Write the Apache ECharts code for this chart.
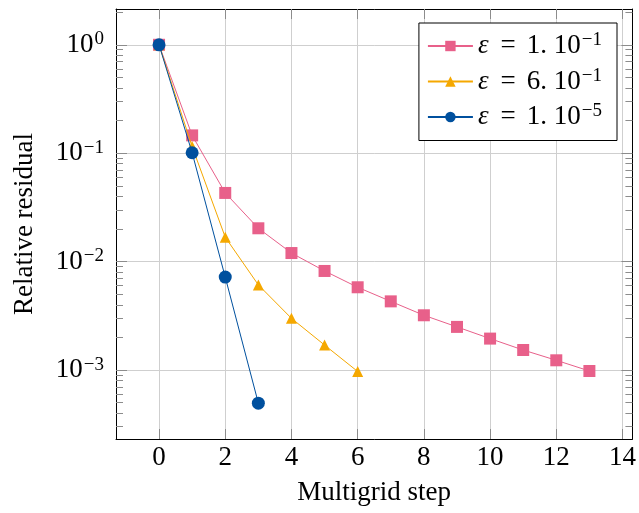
<!DOCTYPE html>
<html>
<head>
<meta charset="utf-8">
<script src="https://cdn.jsdelivr.net/npm/echarts@6/dist/echarts.min.js"></script>
<style>
  html, body { margin: 0; padding: 0; background: #fff; }
  #chart { width: 639px; height: 513px; }
</style>
</head>
<body>
<div id="chart"></div>
<script>
const steps = [0, 1, 2, 3, 4, 5, 6, 7, 8, 9, 10, 11, 12, 13];
const eps1e1 = [1, 0.146, 0.043, 0.0203, 0.0120, 0.0082, 0.0058, 0.0043, 0.0032, 0.0025, 0.00195, 0.00153, 0.00123, 0.00098];
const eps6e1 = [1, 0.115, 0.0168, 0.0061, 0.0030, 0.0017, 0.00097];
const eps1e5 = [1, 0.101, 0.0072, 0.000495];
const xTicks = [0, 2, 4, 6, 8, 10, 12, 14];
const yTicks = [0.001, 0.01, 0.1, 1];
const seriesNames = ['eps1', 'eps6', 'eps5'];
const legendParts = {
  eps1: ['1', '−1'],
  eps6: ['6', '−1'],
  eps5: ['1', '−5']
};

// minor ticks of the log axis: 2..9 times each decade
const yMinor = [];
[0.0001, 0.001, 0.01, 0.1, 1].forEach(d => {
  for (let k = 2; k <= 9; k++) yMinor.push(+(d * k).toPrecision(3));
});

const font = '"Liberation Serif", "DejaVu Serif", serif';
const xMin = -1.3, xMax = 14.3;
const yMin = Math.pow(10, -3.636), yMax = Math.pow(10, 0.33);
const tickColor = '#8c8c8c';

const supRich = {
  b: { fontFamily: font, fontSize: 27, color: '#000', lineHeight: 30 },
  s: { fontFamily: font, fontSize: 19, color: '#000', verticalAlign: 'top', lineHeight: 30, padding: [0, 0, 4, 1] }
};

function powLabel(v) {
  const e = Math.round(Math.log10(v));
  return '{b|10}{s|' + String(e).replace('-', '−') + '}';
}

function pair(xs, ys) {
  return ys.map((y, i) => [xs[i], y]);
}

function tickAxis(type, position, ticks, len, extra) {
  const isX = position === 'top' || position === 'bottom';
  return Object.assign({
    type: type, position: position,
    min: isX ? xMin : yMin, max: isX ? xMax : yMax,
    axisLine: { show: false, onZero: false },
    axisTick: { show: true, inside: true, length: len, customValues: ticks, lineStyle: { color: tickColor } },
    axisLabel: { show: false },
    splitLine: { show: false }
  }, extra || {});
}

const chart = echarts.init(document.getElementById('chart'));

const option = {
  animation: false,
  backgroundColor: '#fff',
  grid: { left: 116, right: 6, top: 9, bottom: 74 },
  legend: {
    data: seriesNames,
    orient: 'vertical',
    right: 22, top: 23,
    backgroundColor: '#fff',
    borderColor: '#000', borderWidth: 1, borderRadius: 0,
    padding: [8, 15, 10, 8],
    itemWidth: 45, itemHeight: 13, itemGap: 7,
    formatter: n => '{i|ε}{e|=}{t|' + legendParts[n][0] + '. 10}{s|' + legendParts[n][1] + '}',
    textStyle: {
      fontFamily: font, fontSize: 27, color: '#000',
      rich: {
        i: { fontFamily: font, fontSize: 27, fontStyle: 'italic', color: '#000', lineHeight: 30 },
        e: { fontFamily: font, fontSize: 27, color: '#000', lineHeight: 30, padding: [0, 11, 0, 12] },
        t: { fontFamily: font, fontSize: 27, color: '#000', lineHeight: 30 },
        s: { fontFamily: font, fontSize: 19, color: '#000', verticalAlign: 'top', lineHeight: 30, padding: [0, 0, 4, 1] }
      }
    }
  },
  xAxis: [{
    type: 'value', min: xMin, max: xMax, position: 'bottom',
    name: 'Multigrid step', nameLocation: 'middle', nameGap: 40,
    nameTextStyle: { fontFamily: font, fontSize: 27, color: '#000' },
    axisLine: { show: true, onZero: false, lineStyle: { color: '#000', width: 1 } },
    axisTick: { show: true, inside: true, length: 10, customValues: xTicks, lineStyle: { color: tickColor } },
    axisLabel: { customValues: xTicks, margin: 5, fontFamily: font, fontSize: 27, color: '#000' },
    splitLine: { show: true, lineStyle: { color: '#cfcfcf', width: 1 } }
  },
  tickAxis('value', 'top', xTicks, 10, {
    axisLine: { show: true, onZero: false, lineStyle: { color: '#000', width: 1 } }
  })],
  yAxis: [{
    type: 'log', logBase: 10, min: yMin, max: yMax, position: 'left',
    name: 'Relative residual', nameLocation: 'middle', nameGap: 78,
    nameTextStyle: { fontFamily: font, fontSize: 27, color: '#000' },
    axisLine: { show: true, onZero: false, lineStyle: { color: '#000', width: 1 } },
    axisTick: { show: true, inside: true, length: 11, customValues: yTicks, lineStyle: { color: tickColor } },
    axisLabel: { customValues: yTicks, margin: 12, formatter: powLabel, rich: supRich },
    splitLine: { show: true, lineStyle: { color: '#cfcfcf', width: 1 } }
  },
  tickAxis('log', 'right', yTicks, 11, {
    axisLine: { show: true, onZero: false, lineStyle: { color: '#000', width: 1 } }
  }),
  tickAxis('log', 'left', yMinor, 7),
  tickAxis('log', 'right', yMinor, 7)],
  series: [{
    name: 'eps1', type: 'line',
    data: pair(steps, eps1e1),
    symbol: 'rect', symbolSize: 12,
    color: '#E8608A',
    lineStyle: { width: 1 },
    z: 2
  }, {
    name: 'eps6', type: 'line',
    data: pair(steps, eps6e1),
    symbol: 'triangle', symbolSize: 11,
    color: '#F5A800',
    lineStyle: { width: 1 },
    z: 3
  }, {
    name: 'eps5', type: 'line',
    data: pair(steps, eps1e5),
    symbol: 'circle', symbolSize: 13,
    color: '#00509E',
    lineStyle: { width: 1 },
    z: 4
  }]
};

chart.setOption(option);
</script>
</body>
</html>
